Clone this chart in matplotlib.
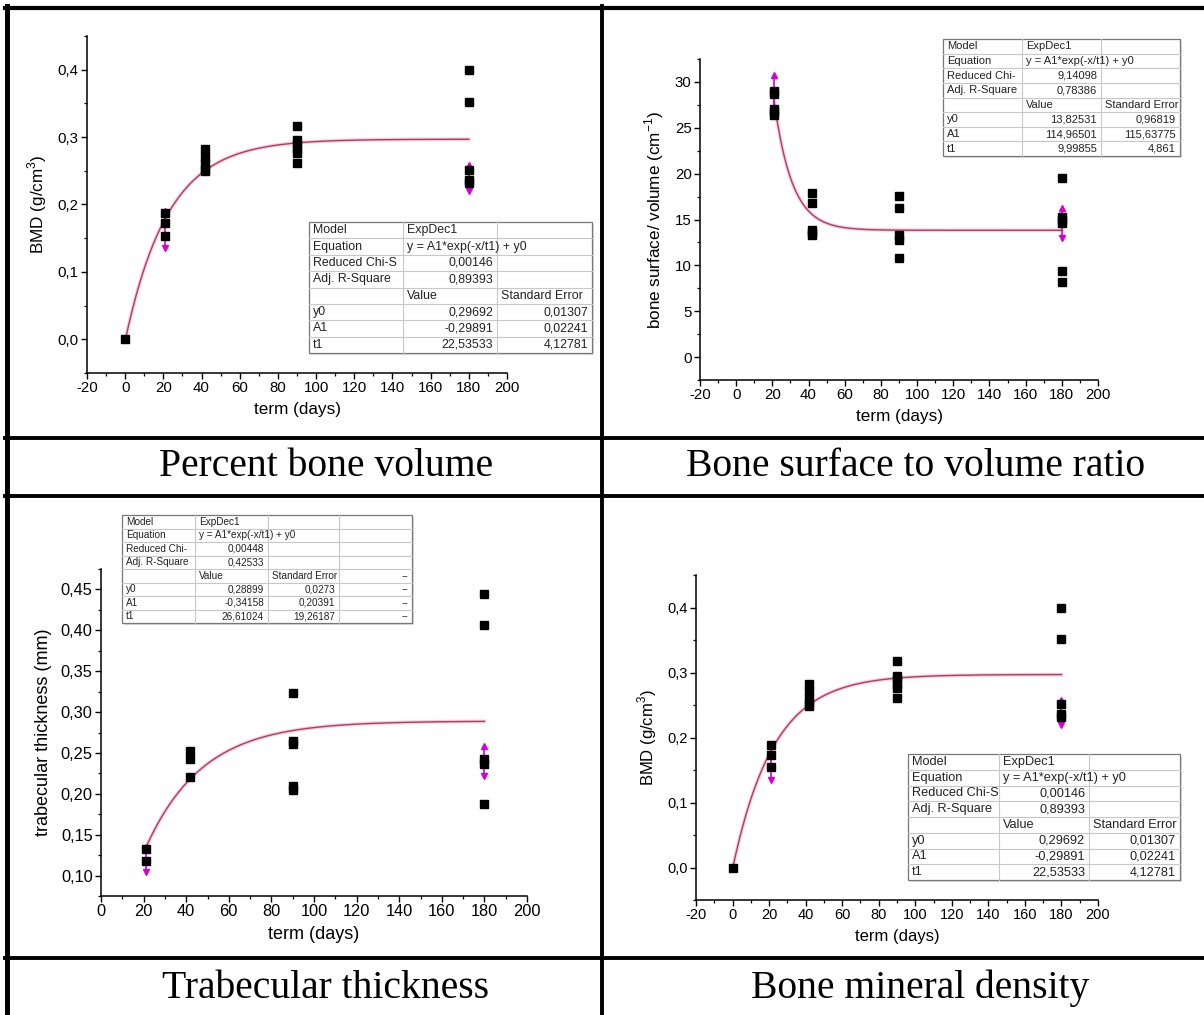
import matplotlib
matplotlib.use('Agg')
import matplotlib.pyplot as plt
import matplotlib.lines as lines
import matplotlib.patches as patches
from matplotlib.ticker import MultipleLocator, FuncFormatter
import numpy as np

plt.rcParams['axes.unicode_minus'] = False
plt.rcParams['mathtext.fontset'] = 'custom'
plt.rcParams['mathtext.rm'] = 'Liberation Sans'

W, H = 1204, 1015
SANS = 'Liberation Sans'
SERIF = 'Liberation Serif'
FIT_COLOR = '#b53a60'
ERR_COLOR = '#d400d4'

# percent bone volume / bone mineral density (same data in both panels)
bmd_x = [0, 21, 21, 21, 42, 42, 42, 42, 42, 90, 90, 90, 90, 90, 90, 180, 180, 180, 180, 180]
bmd_y = [0.0, 0.188, 0.173, 0.154, 0.282, 0.271, 0.261, 0.253, 0.249,
         0.317, 0.295, 0.290, 0.283, 0.276, 0.261, 0.399, 0.352, 0.251, 0.236, 0.232]
bmd_err_x = [21, 180]
bmd_err_lo = [0.135, 0.220]
bmd_err_hi = [0.190, 0.258]
bmd_fit = (0.29692, -0.29891, 22.53533)
bmd_table = [
    ["Model", "ExpDec1", ""],
    ["Equation", "y = A1*exp(-x/t1) + y0", ""],
    ["Reduced Chi-S", "0,00146", ""],
    ["Adj. R-Square", "0,89393", ""],
    ["", "Value", "Standard Error"],
    ["y0", "0,29692", "0,01307"],
    ["A1", "-0,29891", "0,02241"],
    ["t1", "22,53533", "4,12781"],
]

# bone surface to volume ratio
bsv_x = [21, 21, 21, 21, 21, 42, 42, 42, 42, 42, 90, 90, 90, 90, 90, 180, 180, 180, 180, 180, 180]
bsv_y = [29.0, 28.7, 27.0, 26.7, 26.4, 17.9, 16.8, 13.9, 13.5, 13.3,
         17.6, 16.2, 13.3, 12.8, 10.8, 19.5, 15.3, 14.9, 14.6, 9.4, 8.2]
bsv_err_x = [21, 180]
bsv_err_lo = [26.8, 13.0]
bsv_err_hi = [30.8, 16.3]
bsv_fit = (13.82531, 114.96501, 9.99855)
bsv_table = [
    ["Model", "ExpDec1", ""],
    ["Equation", "y = A1*exp(-x/t1) + y0", ""],
    ["Reduced Chi-", "9,14098", ""],
    ["Adj. R-Square", "0,78386", ""],
    ["", "Value", "Standard Error"],
    ["y0", "13,82531", "0,96819"],
    ["A1", "114,96501", "115,63775"],
    ["t1", "9,99855", "4,861"],
]

# trabecular thickness
tbth_x = [21, 21, 42, 42, 42, 90, 90, 90, 90, 90, 180, 180, 180, 180, 180]
tbth_y = [0.132, 0.118, 0.252, 0.242, 0.220, 0.323, 0.264, 0.261, 0.209, 0.205,
          0.444, 0.407, 0.242, 0.237, 0.188]
tbth_err_x = [21, 180]
tbth_err_lo = [0.104, 0.222]
tbth_err_hi = [0.135, 0.258]
tbth_fit = (0.28899, -0.34158, 26.61024)
tbth_table = [
    ["Model", "ExpDec1", "", ""],
    ["Equation", "y = A1*exp(-x/t1) + y0", "", ""],
    ["Reduced Chi-", "0,00448", "", ""],
    ["Adj. R-Square", "0,42533", "", ""],
    ["", "Value", "Standard Error", "--"],
    ["y0", "0,28899", "0,0273", "--"],
    ["A1", "-0,34158", "0,20391", "--"],
    ["t1", "26,61024", "19,26187", "--"],
]

captions = ["Percent bone volume", "Bone surface to volume ratio",
            "Trabecular thickness", "Bone mineral density"]


def fx(px):
    return px / W


def fy(py):
    return 1 - py / H


def is_number(s):
    return len(s) > 0 and (s[0].isdigit() or s[0] == '-')


def comma_fmt(decimals):
    return FuncFormatter(lambda v, p: f"{v:.{decimals}f}".replace('.', ','))


def draw_table(fig, rows, cols, top, bottom, fs):
    n = len(rows)
    rh = (bottom - top) / n
    left, right = cols[0], cols[-1]
    # faint shadow + frame
    fig.add_artist(patches.Rectangle((fx(left + 2), fy(bottom + 2)), (right - left) / W, (bottom - top) / H,
                                     transform=fig.transFigure, facecolor='#dddddd', edgecolor='none'))
    fig.add_artist(patches.Rectangle((fx(left), fy(bottom)), (right - left) / W, (bottom - top) / H,
                                     transform=fig.transFigure, facecolor='white', edgecolor='#777777', lw=0.9))
    for i in range(1, n):
        yy = top + i * rh
        fig.add_artist(lines.Line2D([fx(left), fx(right)], [fy(yy), fy(yy)], color='#c8c8c8', lw=0.8))
    for c in cols[1:-1]:
        fig.add_artist(lines.Line2D([fx(c), fx(c)], [fy(top), fy(bottom)], color='#c8c8c8', lw=0.8))
    for i, row in enumerate(rows):
        yc = top + (i + 0.5) * rh
        for j, txt in enumerate(row):
            if not txt:
                continue
            if is_number(txt):
                fig.text(fx(cols[j + 1] - 4), fy(yc), txt, ha='right', va='center',
                         fontsize=fs, family=SANS, color='#222222')
            else:
                fig.text(fx(cols[j] + 4), fy(yc), txt, ha='left', va='center',
                         fontsize=fs, family=SANS, color='#222222')


def draw_panel(fig, box, xs, ys, ex, elo, ehi, fit, fit_x0, xlim, ylim, ymajor, ydec, ylabel, tfs, lfs):
    left, right, top, bottom = box
    ax = fig.add_axes([fx(left), fy(bottom), (right - left) / W, (bottom - top) / H])
    ax.set_xlim(*xlim)
    ax.set_ylim(*ylim)
    for s in ['top', 'right']:
        ax.spines[s].set_visible(False)
    for s in ['left', 'bottom']:
        ax.spines[s].set_linewidth(1.1)
    ax.xaxis.set_major_locator(MultipleLocator(20))
    ax.xaxis.set_minor_locator(MultipleLocator(10))
    ax.yaxis.set_major_locator(MultipleLocator(ymajor))
    ax.yaxis.set_minor_locator(MultipleLocator(ymajor / 2))
    ax.yaxis.set_major_formatter(comma_fmt(ydec))
    ax.tick_params(which='major', direction='out', length=4, width=1, labelsize=tfs, pad=2)
    ax.tick_params(which='minor', direction='out', length=2.5, width=0.9)
    for t in ax.get_xticklabels() + ax.get_yticklabels():
        t.set_family(SANS)

    y0, a1, t1 = fit
    xx = np.linspace(fit_x0, 180, 300)
    ax.plot(xx, a1 * np.exp(-xx / t1) + y0, color='#f4cfdb', lw=2.6, zorder=2)
    ax.plot(xx, a1 * np.exp(-xx / t1) + y0, color=FIT_COLOR, lw=1.0, zorder=3)

    ax.vlines(ex, elo, ehi, color=ERR_COLOR, lw=1.2, zorder=4)
    ax.plot(ex, ehi, linestyle='none', marker='^', ms=4, color=ERR_COLOR, zorder=4)
    ax.plot(ex, elo, linestyle='none', marker='v', ms=4, color=ERR_COLOR, zorder=4)

    ax.plot(xs, ys, linestyle='none', marker='s', ms=6, color='black', zorder=5)

    ax.set_xlabel("term (days)", fontsize=lfs, family=SANS, labelpad=5)
    ax.set_ylabel(ylabel, fontsize=lfs, family=SANS, labelpad=6)
    return ax


fig = plt.figure(figsize=(W / 100, H / 100), dpi=100)

draw_panel(fig, (87, 507, 36, 373), bmd_x, bmd_y, bmd_err_x, bmd_err_lo, bmd_err_hi, bmd_fit, 0,
           (-20, 200), (-0.05, 0.45), 0.1, 1, "BMD (g/cm$^\\mathrm{3}$)", 10.8, 12.3)
draw_table(fig, bmd_table, [309, 403, 497, 592], 222, 353, 8.9)

draw_panel(fig, (700, 1098, 59, 380), bsv_x, bsv_y, bsv_err_x, bsv_err_lo, bsv_err_hi, bsv_fit, 21,
           (-20, 200), (-2.5, 32.5), 5, 0, "bone surface/ volume (cm$^\\mathrm{-1}$)", 10.8, 12.3)
draw_table(fig, bsv_table, [943, 1022, 1101, 1180], 39, 156, 8.0)

draw_panel(fig, (101, 527, 569, 896), tbth_x, tbth_y, tbth_err_x, tbth_err_lo, tbth_err_hi, tbth_fit, 21,
           (0, 200), (0.075, 0.475), 0.05, 2, "trabecular thickness (mm)", 11.8, 13)
draw_table(fig, tbth_table, [122, 195, 268, 339, 412], 515, 623, 7.2)

draw_panel(fig, (696, 1098, 575, 900), bmd_x, bmd_y, bmd_err_x, bmd_err_lo, bmd_err_hi, bmd_fit, 0,
           (-20, 200), (-0.05, 0.45), 0.1, 1, "BMD (g/cm$^\\mathrm{3}$)", 10.5, 12)
draw_table(fig, bmd_table, [908, 999, 1089, 1180], 754, 880, 9.2)

# captions
for (cx, cy), txt in zip([(326, 467), (916, 467), (326, 988), (920, 988)], captions):
    fig.text(fx(cx), fy(cy), txt, ha='center', va='center', fontsize=28.5, family=SERIF)

# frame lines
frame = [
    ((5, 1204), (8, 8), 3.0),
    ((7, 7), (6, 1015), 3.6),
    ((5, 1204), (438, 438), 2.8),
    ((5, 1204), (496, 496), 2.8),
    ((5, 1204), (958, 958), 2.8),
    ((602, 602), (6, 1015), 2.8),
]
for xsx, ysy, lw in frame:
    fig.add_artist(lines.Line2D([fx(xsx[0]), fx(xsx[1])], [fy(ysy[0]), fy(ysy[1])], color='black', lw=lw))

fig.savefig("out.png", dpi=100)
